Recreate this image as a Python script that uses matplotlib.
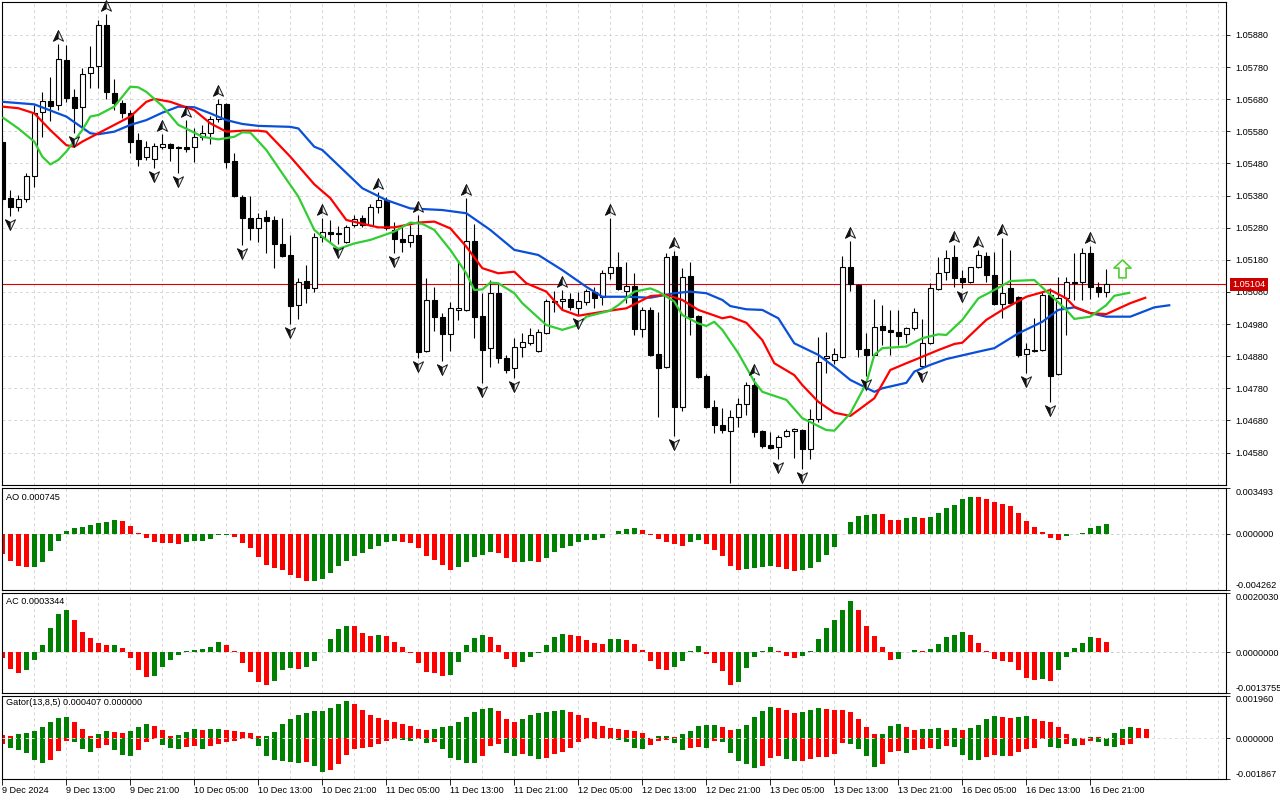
import numpy as np
import matplotlib
matplotlib.use("Agg")
import matplotlib.pyplot as plt
from matplotlib.path import Path
from matplotlib.transforms import offset_copy, blended_transform_factory

plt.rcParams['font.family'] = ['Liberation Sans', 'DejaVu Sans']
plt.rcParams['font.size'] = 6.6

# ---------------- data (EURUSD H1, 9 Dec 05:00 .. 16 Dec 22:00) ----------------
open_ = [1.05547,1.05373,1.05344,1.05369,1.05441,1.05640,1.05674,1.05662,1.05802,1.05687,
         1.05656,1.05762,1.05783,1.05911,1.05699,1.05668,1.05637,1.05553,1.05500,1.05494,
         1.05531,1.05541,1.05531,1.05531,1.05531,1.05562,1.05575,1.05618,1.05665,1.05488,
         1.05376,1.05310,1.05279,1.05313,1.05304,1.05229,1.05195,1.05039,1.05114,1.05092,
         1.05251,1.05267,1.05263,1.05235,1.05288,1.05310,1.05288,1.05344,1.05366,1.05273,
         1.05245,1.05235,1.05257,1.04896,1.05055,1.05002,1.04949,1.05024,1.05024,1.05239,
         1.05005,1.04905,1.05077,1.04874,1.04843,1.04909,1.04921,1.04896,1.04952,1.05049,
         1.05052,1.05058,1.05030,1.05049,1.05080,1.05064,1.05139,1.05158,1.05083,1.05099,
         1.04965,1.05024,1.04887,1.04846,1.05192,1.04722,1.05130,1.05005,1.04818,1.04722,
         1.04666,1.04647,1.04691,1.04731,1.04790,1.04647,1.04603,1.04597,1.04632,1.04647,
         1.04650,1.04591,1.04684,1.04874,1.04868,1.04878,1.05158,1.05102,1.04902,1.04884,
         1.04974,1.04962,1.04955,1.04949,1.04968,1.04849,1.04921,1.05089,1.05142,1.05189,
         1.05123,1.05111,1.05158,1.05192,1.05133,1.05042,1.05092,1.05064,1.04887,1.04896,
         1.04899,1.05070,1.04825,1.05061,1.05111,1.05111,1.05201,1.05095,1.05080]
high = [1.05569,1.05397,1.05382,1.05450,1.05662,1.05702,1.05749,1.05852,1.05849,1.05712,
        1.05777,1.05846,1.05927,1.05945,1.05743,1.05678,1.05646,1.05575,1.05550,1.05544,
        1.05572,1.05544,1.05534,1.05615,1.05590,1.05600,1.05628,1.05681,1.05668,1.05513,
        1.05382,1.05379,1.05326,1.05335,1.05316,1.05310,1.05257,1.05123,1.05164,1.05263,
        1.05310,1.05304,1.05285,1.05288,1.05320,1.05320,1.05354,1.05391,1.05376,1.05298,
        1.05282,1.05288,1.05320,1.05123,1.05095,1.05014,1.05049,1.05173,1.05373,1.05292,
        1.05077,1.05117,1.05108,1.04884,1.04937,1.04952,1.04968,1.04965,1.05058,1.05083,
        1.05086,1.05077,1.05080,1.05089,1.05095,1.05148,1.05310,1.05204,1.05173,1.05139,
        1.05033,1.05033,1.05018,1.05201,1.05207,1.05155,1.05173,1.05008,1.04825,1.04744,
        1.04719,1.04712,1.04750,1.04800,1.04812,1.04650,1.04644,1.04635,1.04653,1.04656,
        1.04653,1.04716,1.04940,1.04955,1.04905,1.05192,1.05239,1.05105,1.04952,1.05058,
        1.05039,1.05024,1.05024,1.04971,1.05030,1.04996,1.05108,1.05189,1.05211,1.05226,
        1.05148,1.05158,1.05211,1.05204,1.05204,1.05248,1.05211,1.05067,1.04921,1.04999,
        1.05080,1.05092,1.05127,1.05127,1.05201,1.05217,1.05223,1.05111,1.05151]
low = [1.05351,1.05316,1.05332,1.05360,1.05407,1.05562,1.05612,1.05646,1.05671,1.05575,
       1.05594,1.05715,1.05715,1.05681,1.05646,1.05622,1.05513,1.05472,1.05491,1.05466,
       1.05525,1.05488,1.05450,1.05516,1.05485,1.05553,1.05541,1.05609,1.05466,1.05376,
       1.05226,1.05242,1.05235,1.05201,1.05155,1.05189,1.04980,1.04996,1.05046,1.05080,
       1.05235,1.05232,1.05229,1.05232,1.05282,1.05282,1.05285,1.05326,1.05273,1.05201,
       1.05204,1.05220,1.04874,1.04893,1.04958,1.04865,1.04896,1.04993,1.05021,1.04937,
       1.04797,1.04846,1.04859,1.04828,1.04812,1.04878,1.04915,1.04893,1.04949,1.05018,
       1.05024,1.05024,1.05008,1.05039,1.05030,1.05039,1.05120,1.05086,1.05046,1.04946,
       1.04940,1.04881,1.04691,1.04843,1.04632,1.04709,1.04946,1.04812,1.04719,1.04641,
       1.04641,1.04485,1.04660,1.04697,1.04628,1.04594,1.04591,1.04560,1.04628,1.04563,
       1.04529,1.04560,1.04675,1.04828,1.04856,1.04874,1.05083,1.04878,1.04818,1.04881,
       1.04915,1.04884,1.04915,1.04921,1.04962,1.04843,1.04918,1.05086,1.05117,1.05095,
       1.05092,1.05108,1.05155,1.05111,1.05039,1.04999,1.05042,1.04878,1.04828,1.04893,
       1.04896,1.04737,1.04821,1.04946,1.05055,1.05055,1.05058,1.05064,1.05064]
close = [1.05369,1.05344,1.05369,1.05441,1.05637,1.05674,1.05659,1.05805,1.05684,1.05653,
         1.05759,1.05780,1.05911,1.05702,1.05668,1.05637,1.05547,1.05494,1.05531,1.05534,
         1.05541,1.05528,1.05528,1.05525,1.05562,1.05575,1.05618,1.05665,1.05485,1.05379,
         1.05310,1.05279,1.05310,1.05301,1.05229,1.05192,1.05036,1.05111,1.05092,1.05251,
         1.05267,1.05260,1.05260,1.05282,1.05307,1.05288,1.05344,1.05366,1.05279,1.05245,
         1.05235,1.05257,1.04893,1.05055,1.05002,1.04949,1.05030,1.05030,1.05239,1.05002,
         1.04899,1.05077,1.04874,1.04837,1.04909,1.04924,1.04946,1.04955,1.05052,1.05052,
         1.05058,1.05033,1.05052,1.05083,1.05061,1.05139,1.05158,1.05089,1.05099,1.04965,
         1.05024,1.04884,1.04843,1.05189,1.04722,1.05127,1.05002,1.04815,1.04722,1.04666,
         1.04650,1.04691,1.04731,1.04790,1.04644,1.04600,1.04594,1.04628,1.04647,1.04653,
         1.04591,1.04684,1.04862,1.04881,1.04887,1.05158,1.05105,1.04902,1.04884,1.04971,
         1.04962,1.04955,1.04943,1.04968,1.05018,1.04921,1.05092,1.05139,1.05186,1.05123,
         1.05111,1.05158,1.05195,1.05133,1.05042,1.05077,1.05046,1.04884,1.04902,1.04899,
         1.05070,1.04818,1.05061,1.05111,1.05108,1.05201,1.05095,1.05080,1.05104]

fractal_up = [7, 13, 20, 23, 27, 40, 47, 52, 58, 70, 76, 84, 94, 106, 119, 122, 125, 136]
fractal_down = [1, 9, 19, 22, 30, 36, 42, 49, 52, 55, 60, 64, 72, 84, 91, 97, 100, 108,
                115, 120, 128, 131]

# Alligator (values read at the given bar positions; lines run past the last bar by their shift)
jaw_bar = [0,4,8,11,12,14,16,18,20,22,24,26,28,30,32,36,37,39,40,45,48,51,55,58,61,64,67,70,
           73,75,78,81,84,86,88,90,91,93,95,97,99,102,104,106,109,110,113,114,116,118,122,124,
           127,130,132,134,136,138,141,144,146]
jaw = [1.05672,1.05664,1.05626,1.05574,1.05571,1.05579,1.05600,1.05615,1.05638,1.05657,
       1.05655,1.05636,1.05615,1.05603,1.05597,1.05594,1.05589,1.05532,1.05522,1.05403,
       1.05366,1.05340,1.05335,1.05325,1.05273,1.05211,1.05195,1.05148,1.05096,1.05065,
       1.05065,1.05062,1.05076,1.05081,1.05076,1.05055,1.05036,1.05026,1.05024,1.04998,
       1.04920,1.04884,1.04847,1.04806,1.04769,1.04780,1.04797,1.04832,1.04853,1.04871,
       1.04894,1.04905,1.04951,1.04987,1.05024,1.05032,1.05014,1.05003,1.05003,1.05032,
       1.05039]
teeth_bar = [0,2,4,6,8,9,10,12,14,16,18,19,21,24,26,28,30,32,33,36,39,41,43,47,49,52,54,56,
             58,60,62,64,65.5,68,70,72,74,76,78,81,83,85,87,90,91,93,95,96.5,99,100,102,104,
             106,107,109,111,113,114,117,119,120,123,125,128,131,133,134,136,138,141,143]
teeth = [1.05657,1.05652,1.05636,1.05584,1.05537,1.05532,1.05548,1.05574,1.05600,1.05626,
         1.05672,1.05681,1.05672,1.05646,1.05605,1.05579,1.05582,1.05582,1.05579,1.05501,
         1.05415,1.05372,1.05304,1.05281,1.05281,1.05296,1.05299,1.05278,1.05221,1.05154,
         1.05138,1.05143,1.05107,1.05081,1.05024,1.05006,1.05014,1.05022,1.05029,1.05067,
         1.05071,1.05055,1.05024,1.04998,1.05003,1.04984,1.04930,1.04858,1.04821,1.04790,
         1.04738,1.04704,1.04694,1.04712,1.04749,1.04837,1.04858,1.04868,1.04899,1.04918,
         1.04922,1.04993,1.05024,1.05065,1.05086,1.05060,1.05034,1.05014,1.05011,1.05045,
         1.05063]
lips_bar = [0,2,4,5,6,7,8,10,11,12,14,15,16,17,18,20,22,24,25,27,29,30,31,33,35,37,39,40,42,
            44,46,49,51,52.5,54,56,58,59,60,61,62,64,65,68,70,72,73,76,77,79,81,82,84,85,87,
            88,89,90,92,94,95,98,100,103,104,106,108,109,110,113,115,117,118,120,122,124,126,
            129,131,133,134,136,138,139,141]
lips = [1.05624,1.05589,1.05548,1.05501,1.05477,1.05491,1.05517,1.05584,1.05626,1.05631,
        1.05657,1.05688,1.05719,1.05717,1.05703,1.05659,1.05600,1.05576,1.05563,1.05555,
        1.05563,1.05577,1.05576,1.05522,1.05449,1.05377,1.05273,1.05252,1.05214,1.05231,
        1.05242,1.05268,1.05296,1.05292,1.05273,1.05211,1.05138,1.05086,1.05088,1.05109,
        1.05107,1.05076,1.05045,1.04977,1.04962,1.04977,1.05003,1.05022,1.05039,1.05081,
        1.05091,1.05081,1.05050,1.05008,1.04982,1.04974,1.04987,1.04962,1.04889,1.04801,
        1.04769,1.04744,1.04687,1.04650,1.04648,1.04702,1.04796,1.04884,1.04905,1.04910,
        1.04936,1.04948,1.04946,1.04993,1.05060,1.05086,1.05114,1.05117,1.05071,1.05024,
        1.04996,1.05003,1.05039,1.05068,1.05078]

# Oscillators, in units of 0.0001
ao_e4 = [-15.20,-20.27,-24.07,-25.34,-24.83,-21.03,-13.18,-5.57,2.03,4.31,
         5.07,7.10,8.11,8.87,10.39,10.14,6.34,0.76,-3.29,-6.34,
         -7.10,-7.22,-7.35,-6.34,-5.57,-5.07,-4.05,-1.01,-0.76,-2.53,
         -7.10,-10.90,-17.74,-23.31,-26.10,-27.11,-30.91,-33.70,-35.98,-35.73,
         -34.46,-29.90,-24.07,-20.27,-16.47,-14.70,-11.66,-8.87,-6.34,-5.57,
         -6.34,-6.59,-10.90,-16.47,-19.51,-23.31,-27.11,-25.34,-21.03,-17.74,
         -15.71,-13.94,-14.19,-18.50,-21.54,-21.03,-20.78,-21.03,-18.50,-13.94,
         -10.90,-9.38,-6.34,-4.56,-4.31,-3.29,-0.25,2.53,4.05,4.18,
         3.29,-0.51,-4.05,-6.34,-7.86,-8.87,-6.34,-4.56,-7.86,-11.91,
         -16.47,-24.07,-27.11,-26.86,-25.59,-25.34,-24.07,-24.83,-26.86,-27.87,
         -27.62,-26.10,-21.54,-15.71,-9.63,-0.25,9.38,13.94,14.19,15.46,
         15.20,10.90,10.64,12.42,13.18,12.42,13.18,16.22,20.02,22.30,
         26.86,28.38,28.13,26.86,24.58,23.06,21.54,16.22,10.14,5.57,
         1.77,-3.29,-4.31,-1.77,-0.25,0.76,4.81,6.34,7.45]
ac_e4 = [-2.05,-5.80,-7.17,-6.14,-2.73,2.28,8.08,12.86,14.22,10.81,
         6.71,4.66,2.96,2.28,2.39,1.25,-2.05,-6.14,-8.53,-8.19,
         -5.12,-2.73,-1.02,0.34,0.68,0.91,1.59,3.30,2.28,0.23,
         -3.75,-6.83,-9.90,-10.92,-9.56,-6.14,-5.46,-5.80,-5.12,-3.07,
         0.11,4.32,7.74,8.76,8.65,6.37,5.35,5.69,5.35,3.30,
         1.59,-0.34,-3.75,-6.83,-7.17,-8.19,-7.85,-3.41,2.28,4.89,
         5.69,5.01,2.28,-2.39,-5.12,-3.41,-1.71,-0.23,2.28,5.01,
         6.03,5.69,5.35,3.98,2.96,2.62,4.32,4.44,3.98,2.62,
         0.68,-3.07,-5.80,-5.92,-5.12,-3.07,0.34,1.93,-0.68,-3.75,
         -6.48,-10.92,-9.90,-5.46,-1.71,0.34,1.59,0.23,-1.37,-2.05,
         -1.37,0.34,4.32,8.08,10.81,14.22,17.29,14.22,8.76,5.35,
         1.59,-2.73,-2.39,0.11,0.57,0.23,0.91,2.62,5.01,5.69,
         6.71,5.69,2.96,0.34,-2.39,-3.07,-3.41,-6.14,-8.87,-9.22,
         -9.10,-9.56,-6.14,-1.71,1.25,2.96,5.01,4.66,3.344]
gator_up_e4 = [1.56,1.24,2.02,2.33,3.42,5.29,7.62,9.49,9.96,7.62,
               4.36,1.09,2.02,3.42,2.96,2.49,3.42,5.29,6.69,5.76,
               3.89,1.09,1.56,2.96,4.04,3.89,4.12,4.36,3.89,3.42,
               2.96,2.49,1.09,1.24,2.96,6.69,9.02,10.89,11.36,12.29,
               12.45,13.69,15.56,16.96,15.56,13.07,10.89,9.49,8.56,7.62,
               6.53,5.76,4.36,3.89,4.36,5.29,5.44,7.62,9.96,11.82,
               13.22,13.69,12.29,9.02,7.62,9.02,10.89,11.36,11.82,12.29,
               12.76,11.82,10.89,9.49,7.62,5.76,4.82,4.36,3.89,3.42,
               2.49,0.31,1.09,1.17,0.47,2.02,3.42,5.76,5.91,6.22,
               5.29,3.89,4.36,6.22,9.96,12.29,14.16,14.00,12.76,11.36,
               11.82,12.76,13.69,13.22,13.07,12.76,11.82,9.02,5.29,2.02,
               2.18,5.76,6.69,5.29,3.89,4.04,4.36,4.51,3.89,4.82,
               3.89,4.82,6.22,9.02,10.42,9.96,9.49,9.96,10.11,9.02,
               8.09,7.62,5.29,2.02,0.16,0.23,0.78,0.47,0.16,2.49,
               4.36,5.29,4.82,4.07]
gator_down_e4 = [2.80,4.36,5.44,6.69,9.96,11.36,9.96,5.76,1.09,1.56,
                 4.82,6.22,4.36,2.96,5.29,7.62,8.25,5.44,1.56,0.47,
                 2.96,4.36,4.82,3.89,3.73,4.82,3.42,2.80,1.56,1.09,
                 0.47,0.16,3.42,8.09,9.96,10.42,10.89,11.36,10.89,12.76,
                 15.56,14.62,11.82,7.62,4.82,4.36,3.89,2.49,1.09,0.47,
                 0.62,1.09,0.31,2.02,1.87,4.82,9.02,9.96,11.20,11.51,
                 8.09,3.42,2.49,6.69,8.09,7.16,8.09,9.49,9.02,7.16,
                 6.22,4.36,1.56,0.23,0.16,0.08,0.47,0.62,1.56,4.36,
                 4.82,2.96,1.09,0.62,2.02,5.29,4.67,3.89,4.36,1.09,
                 1.56,6.69,10.42,11.82,13.69,12.76,9.02,8.09,9.49,10.42,
                 10.27,9.49,8.56,8.40,7.16,2.33,2.49,4.82,8.09,13.22,
                 11.82,6.22,5.76,6.69,5.29,4.82,4.36,4.82,3.42,3.89,
                 7.62,9.96,10.11,8.56,7.62,8.09,7.93,6.22,4.82,4.36,
                 0.47,3.89,4.36,2.49,3.42,3.27,1.09,1.56,3.42,3.89,
                 2.96,2.49]

date_ticks = [0, 8, 16, 24, 32, 40, 48, 56, 64, 72, 80, 88, 96, 104, 112, 120, 128, 136]
date_labels = ["9 Dec 2024", "9 Dec 13:00", "9 Dec 21:00", "10 Dec 05:00", "10 Dec 13:00",
               "10 Dec 21:00", "11 Dec 05:00", "11 Dec 13:00", "11 Dec 21:00", "12 Dec 05:00",
               "12 Dec 13:00", "12 Dec 21:00", "13 Dec 05:00", "13 Dec 13:00", "13 Dec 21:00",
               "16 Dec 05:00", "16 Dec 13:00", "16 Dec 21:00"]
price_labels = [1.04580, 1.04680, 1.04780, 1.04880, 1.04980, 1.05080, 1.05180, 1.05280,
                1.05380, 1.05480, 1.05580, 1.05680, 1.05780, 1.05880]
last_price = 1.05104
signal_bar, signal_price = 140, 1.05155
ao_range = (-0.004262, 0.003493)
ac_range = (-0.0013755, 0.0020030)
gator_range = (-0.001867, 0.001960)

# ---------------- styling ----------------
GRID = '#d6d6d6'
GREEN = '#008000'
RED = '#ff0000'
W, H = 1280, 800
fig = plt.figure(figsize=(12.8, 8), dpi=100, facecolor='white')


def rect(top, bottom):
    return [2 / W, 1 - bottom / H, 1224 / W, (bottom - top) / H]


ax = fig.add_axes(rect(2, 485))
ax_ao = fig.add_axes(rect(488, 590))
ax_ac = fig.add_axes(rect(592.5, 693))
ax_gt = fig.add_axes(rect(695.5, 779))
axes = [ax, ax_ao, ax_ac, ax_gt]
XLIM = (-0.04, 152.96)

for a in axes:
    a.set_xlim(*XLIM)
    for s in a.spines.values():
        s.set_color('black')
        s.set_linewidth(0.8)
    for g in range(0, 153, 4):
        a.axvline(g, color=GRID, lw=0.7, ls=(0, (3, 3)), zorder=0)
    a.yaxis.tick_right()
    a.tick_params(axis='y', length=3, width=0.6, pad=4, labelsize=6.6, colors='black')
    a.tick_params(axis='x', bottom=False, labelbottom=False)
    a.set_facecolor('white')

# ---- main price panel ----
ax.set_ylim(1.044789, 1.059827)
for p in price_labels:
    ax.axhline(p, color=GRID, lw=0.7, ls=(0, (3, 3)), zorder=0)
ax.set_yticks(price_labels)
ax.set_yticklabels([f"{p:.5f}" for p in price_labels])

o = np.array(open_); h = np.array(high); l = np.array(low); c = np.array(close)
x = np.arange(len(o))
bull = c >= o
ax.axhline(last_price, color='#dd0000', lw=0.8, zorder=1.5)
ax.vlines(x, l, h, color='black', lw=0.8, zorder=3)
ax.bar(x, np.abs(c - o), bottom=np.minimum(o, c), width=0.6,
       color=np.where(bull, 'white', 'black'), edgecolor='black', linewidth=0.8, zorder=4)

ax.plot(jaw_bar, jaw, color='#0a4fd8', lw=1.6, zorder=5, solid_capstyle='butt')
ax.plot(teeth_bar, teeth, color='#ff0000', lw=1.6, zorder=5, solid_capstyle='butt')
ax.plot(lips_bar, lips, color='#32cd32', lw=1.6, zorder=5, solid_capstyle='butt')

MV, LT, CP = Path.MOVETO, Path.LINETO, Path.CLOSEPOLY
head_up = Path([(0, 1), (0.85, -0.8), (0, -0.35), (-0.85, -0.8), (0, 1)], [MV, LT, LT, LT, CP])
half_up = Path([(0, 1), (0, -0.35), (-0.85, -0.8), (0, 1)], [MV, LT, LT, CP])
head_dn = Path([(0, -1), (0.85, 0.8), (0, 0.35), (-0.85, 0.8), (0, -1)], [MV, LT, LT, LT, CP])
half_dn = Path([(0, -1), (0, 0.35), (-0.85, 0.8), (0, -1)], [MV, LT, LT, CP])
tr_up = offset_copy(ax.transData, fig=fig, x=0, y=8, units='dots')
tr_dn = offset_copy(ax.transData, fig=fig, x=0, y=-8, units='dots')
fu = np.array(fractal_up); fd = np.array(fractal_down)
ax.plot(fu, h[fu], ls='none', marker=head_up, ms=8.5, mfc='#eaf2ff', mec='#1a1a1a', mew=0.7,
        transform=tr_up, zorder=6, clip_on=False)
ax.plot(fu, h[fu], ls='none', marker=half_up, ms=8.5, mfc='#111111', mec='#111111', mew=0.3,
        transform=tr_up, zorder=6.1, clip_on=False)
ax.plot(fd, l[fd], ls='none', marker=head_dn, ms=8.5, mfc='#eaf2ff', mec='#1a1a1a', mew=0.7,
        transform=tr_dn, zorder=6, clip_on=True)
ax.plot(fd, l[fd], ls='none', marker=half_dn, ms=8.5, mfc='#111111', mec='#111111', mew=0.3,
        transform=tr_dn, zorder=6.1, clip_on=True)

arrow = Path([(0, 1), (1, 0.05), (0.42, 0.05), (0.42, -1.1), (-0.42, -1.1), (-0.42, 0.05),
              (-1, 0.05), (0, 1)], [MV, LT, LT, LT, LT, LT, LT, CP])
ax.plot([signal_bar], [signal_price], ls='none', marker=arrow, ms=13.5, mfc='white',
        mec='#4fcf32', mew=1.2, zorder=7)

btr = blended_transform_factory(ax.transAxes, ax.transData)
ax.text(1.0053, last_price, f"{last_price:.5f}", transform=btr, ha='left', va='center',
        color='white', fontsize=6.6, zorder=20, clip_on=False,
        bbox=dict(boxstyle='square,pad=0.22', fc='#cc0000', ec='none'))


# ---- oscillator panels ----
def colors_of(vals):
    cols = [RED]
    for i in range(1, len(vals)):
        cols.append(GREEN if vals[i] > vals[i - 1] else RED)
    return cols


def setup_panel(a, rng, labels, title, ytop_frac):
    a.set_ylim(*rng)
    a.set_yticks([rng[0], 0.0, rng[1]])
    a.set_yticklabels(labels)
    tl = a.get_yticklabels()
    tl[0].set_va('bottom')
    tl[2].set_va('top')
    a.text(0.0033, ytop_frac, title, transform=a.transAxes, ha='left', va='top',
           fontsize=6.6, color='black', zorder=10)


ao = np.array(ao_e4) * 1e-4
ac = np.array(ac_e4) * 1e-4
gu = np.array(gator_up_e4) * 1e-4
gd = np.array(gator_down_e4) * 1e-4

ax_ao.axhline(0, color='#cfcfcf', lw=0.7, ls=(0, (3, 3)), zorder=0.5)
ax_ao.bar(np.arange(len(ao)), ao, width=0.6, color=colors_of(ao), linewidth=0, zorder=2)
setup_panel(ax_ao, ao_range, ["-0.004262", "0.000000", "0.003493"], "AO 0.000745", 0.955)

ax_ac.axhline(0, color='#cfcfcf', lw=0.7, ls=(0, (3, 3)), zorder=0.5)
ax_ac.bar(np.arange(len(ac)), ac, width=0.6, color=colors_of(ac), linewidth=0, zorder=2)
setup_panel(ax_ac, ac_range, ["-0.0013755", "0.0000000", "0.0020030"], "AC 0.0003344", 0.955)

ax_gt.bar(np.arange(len(gu)), gu, width=0.6, color=colors_of(gu), linewidth=0, zorder=2)
ax_gt.bar(np.arange(len(gd)), -gd, width=0.6, color=colors_of(gd), linewidth=0, zorder=2)
ax_gt.axhline(0, color='#dedede', lw=0.7, ls=(0, (3, 3)), zorder=3)
setup_panel(ax_gt, gator_range, ["-0.001867", "0.000000", "0.001960"],
            "Gator(13,8,5) 0.000407 0.000000", 0.965)

ax_gt.tick_params(axis='x', bottom=True, labelbottom=True, length=4, width=0.6, pad=1,
                  labelsize=6.6, colors='black')
ax_gt.set_xticks(date_ticks)
ax_gt.set_xticklabels(date_labels)
for t in ax_gt.get_xticklabels():
    t.set_ha('left')

fig.savefig("out.png", dpi=100, facecolor='white')
